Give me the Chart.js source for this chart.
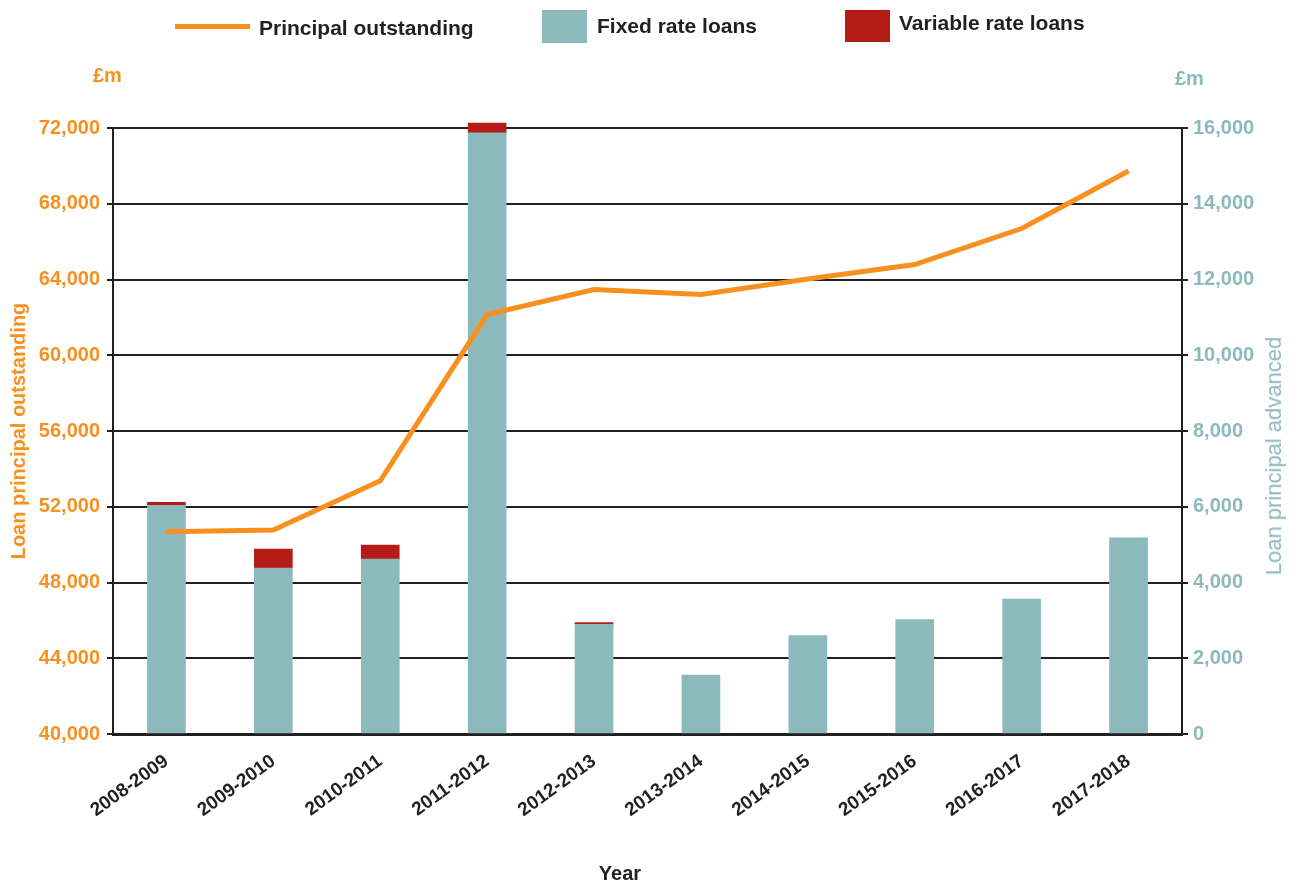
<!DOCTYPE html>
<html lang="en">
<head>
    <meta charset="UTF-8">
    <title>Loan principal outstanding and advanced</title>
    <script src="https://cdn.jsdelivr.net/npm/chart.js"></script>
    <style>
        body { margin: 0; background: #fff; font-family: "Liberation Sans", Arial, sans-serif; }
        #wrap { position: relative; width: 1300px; height: 883px; }
        #loanChart { position: absolute; left: 0; top: 0; }
        .lbl { position: absolute; white-space: nowrap; font-weight: bold; font-size: 21px; color: #231f20; line-height: 24px; }
        .swatch { position: absolute; }
    </style>
</head>
<body>
    <div id="wrap">
        <canvas id="loanChart" width="1300" height="883"></canvas>

        <div class="swatch" style="left:175px; top:24px; width:75px; height:5px; background:#f7901e;"></div>
        <div class="lbl" style="left:259px; top:16px;">Principal outstanding</div>
        <div class="swatch" style="left:542px; top:10px; width:45px; height:33px; background:#8cb9bb;"></div>
        <div class="lbl" style="left:597px; top:14px;">Fixed rate loans</div>
        <div class="swatch" style="left:845px; top:10px; width:45px; height:32px; background:#b51c17;"></div>
        <div class="lbl" style="left:899px; top:11px;">Variable rate loans</div>

        <div class="lbl" style="left:93px; top:63px; font-size:20px; color:#f7901e;">£m</div>
        <div class="lbl" style="left:1175px; top:66px; font-size:20px; color:#8cb9bb;">£m</div>
        <div class="lbl" style="left:1274px; top:456px; font-size:22px; font-weight:normal; color:#8cb9bb; transform: translate(-50%, -50%) rotate(-90deg);">Loan principal advanced</div>
        <div class="lbl" style="left:620px; top:873px; font-size:20px; transform: translate(-50%, -50%);">Year</div>
    </div>

    <script>
        const ORANGE = '#f7901e';
        const TEAL = '#8cb9bb';
        const RED = '#b51c17';
        const DARK = '#231f20';

        const years = ['2008-2009', '2009-2010', '2010-2011', '2011-2012', '2012-2013',
                       '2013-2014', '2014-2015', '2015-2016', '2016-2017', '2017-2018'];
        // £m, left axis
        const principalOutstanding = [50680, 50770, 53370, 62150, 63470, 63210, 64030, 64790, 66690, 69730];
        // £m, right axis
        const fixedRateLoans = [6040, 4380, 4620, 15870, 2895, 1557, 2600, 3020, 3565, 5180];
        const variableRateLoans = [80, 500, 370, 260, 50, null, null, null, null, null];

        const leftTicks = { min: 40000, max: 72000, step: 4000 };
        const rightTicks = { min: 0, max: 16000, step: 2000 };

        const fmt = v => v.toLocaleString('en-GB');

        const ctx = document.getElementById('loanChart').getContext('2d');
        new Chart(ctx, {
            type: 'bar',
            data: {
                labels: years,
                datasets: [
                    {
                        type: 'line',
                        label: 'Principal outstanding',
                        data: principalOutstanding,
                        yAxisID: 'y',
                        borderColor: ORANGE,
                        borderWidth: 5,
                        pointRadius: 0,
                        tension: 0,
                        fill: false
                    },
                    {
                        label: 'Fixed rate loans',
                        data: fixedRateLoans,
                        yAxisID: 'y1',
                        backgroundColor: TEAL,
                        barThickness: 38,
                        stack: 'loans'
                    },
                    {
                        label: 'Variable rate loans',
                        data: variableRateLoans,
                        yAxisID: 'y1',
                        backgroundColor: RED,
                        barThickness: 38,
                        stack: 'loans',
                        clip: false
                    }
                ]
            },
            options: {
                responsive: false,
                animation: false,
                layout: { padding: { top: 128, left: 0, right: 0, bottom: 0 } },
                plugins: {
                    legend: { display: false },
                    tooltip: { enabled: false }
                },
                scales: {
                    x: {
                        stacked: true,
                        afterFit: s => { s.height = 149; },
                        grid: { display: false, drawTicks: false },
                        border: { display: true, color: DARK, width: 3 },
                        ticks: {
                            color: DARK,
                            font: { family: 'Liberation Sans', weight: 'bold', size: 19 },
                            minRotation: 36,
                            maxRotation: 36,
                            padding: 16,
                            labelOffset: 0
                        }
                    },
                    y: {
                        position: 'left',
                        min: leftTicks.min,
                        max: leftTicks.max,
                        afterFit: s => { s.width = 113; },
                        grid: { color: DARK, lineWidth: 2, tickLength: 6 },
                        border: { display: true, color: DARK, width: 2 },
                        ticks: {
                            stepSize: leftTicks.step,
                            color: ORANGE,
                            padding: 7,
                            font: { family: 'Liberation Sans', weight: 'bold', size: 20 },
                            callback: v => fmt(v)
                        },
                        title: {
                            display: true,
                            text: 'Loan principal outstanding',
                            color: ORANGE,
                            font: { family: 'Liberation Sans', weight: 'bold', size: 20 },
                            padding: { top: 7, bottom: 0 }
                        }
                    },
                    y1: {
                        position: 'right',
                        stacked: true,
                        min: rightTicks.min,
                        max: rightTicks.max,
                        afterFit: s => { s.width = 118; },
                        grid: { drawOnChartArea: false, color: DARK, lineWidth: 2, tickLength: 6 },
                        border: { display: true, color: DARK, width: 2 },
                        ticks: {
                            stepSize: rightTicks.step,
                            color: TEAL,
                            padding: 5,
                            font: { family: 'Liberation Sans', weight: 'bold', size: 20 },
                            callback: v => fmt(v)
                        }
                    }
                }
            }
        });
    </script>
</body>
</html>
